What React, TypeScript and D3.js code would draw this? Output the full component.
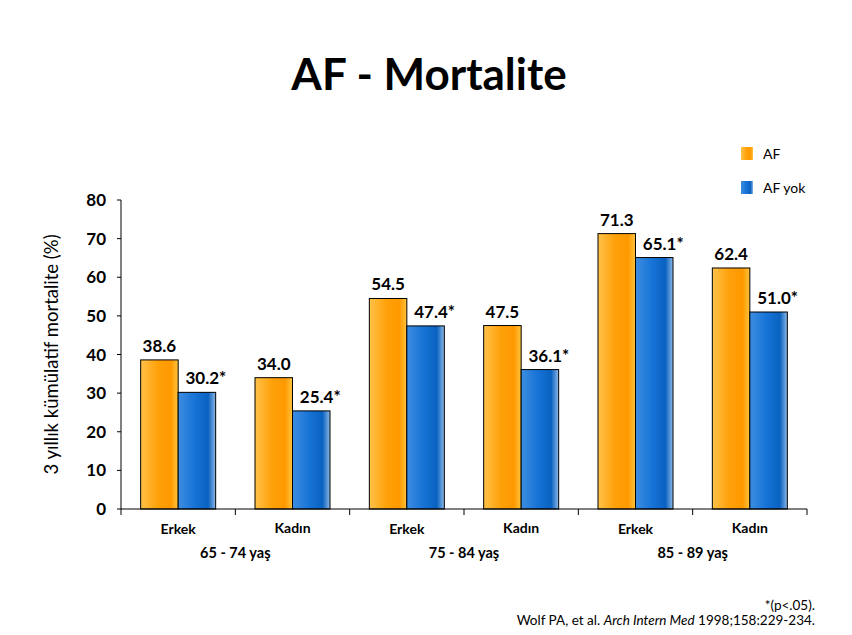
import React from "react";
import * as d3 from "d3";

const categories = ["Erkek", "Kadın", "Erkek", "Kadın", "Erkek", "Kadın"];
const ageGroups = ["65 - 74 yaş", "75 - 84 yaş", "85 - 89 yaş"];
const afValues = [38.6, 34.0, 54.5, 47.5, 71.3, 62.4];
const afYokValues = [30.2, 25.4, 47.4, 36.1, 65.1, 51.0];
const yTicks = [0, 10, 20, 30, 40, 50, 60, 70, 80];
const seriesNames = ["AF", "AF yok"];

const FONT = "Lato, 'Open Sans', sans-serif";

export default function App() {
  const x0 = 121, x1 = 807, yTop = 200, yBot = 509;
  const y = d3.scaleLinear().domain([0, 80]).range([yBot, yTop]);
  const xc = d3.scaleBand<number>().domain(d3.range(categories.length)).range([x0, x1]);
  const bw = 37.5;
  const tickPos = d3.range(categories.length + 1).map((i) => x0 + i * xc.step());

  return (
    <svg width={852} height={635} style={{ position: "absolute", left: 0, top: 0, background: "#fff" }}>
      <defs>
        <linearGradient id="gOr" x1="0" x2="1" y1="0" y2="0">
          <stop offset="0" stopColor="#FFC24A" />
          <stop offset="0.45" stopColor="#FFA10A" />
          <stop offset="0.8" stopColor="#FF9900" />
          <stop offset="1" stopColor="#FFC43D" />
        </linearGradient>
        <linearGradient id="gBl" x1="0" x2="1" y1="0" y2="0">
          <stop offset="0" stopColor="#3D8DE0" />
          <stop offset="0.45" stopColor="#1673D6" />
          <stop offset="0.8" stopColor="#0A62C0" />
          <stop offset="1" stopColor="#8CB8E8" />
        </linearGradient>
      </defs>
      <text x={429} y={90} textAnchor="middle" fontFamily={FONT} fontWeight={700} fontSize={44} fill="#000">
        AF - Mortalite
      </text>

      {/* legend */}
      {seriesNames.map((s, i) => (
        <g key={s}>
          <rect x={741} y={147 + i * 34} width={12} height={13} fill={i === 0 ? "url(#gOr)" : "url(#gBl)"} />
          <text x={763} y={159 + i * 34} fontFamily={FONT} fontSize={14} fill="#000">{s}</text>
        </g>
      ))}

      {/* y axis */}
      <line x1={x0} x2={x0} y1={yTop} y2={yBot} stroke="#000" strokeWidth={1} />
      {yTicks.map((t) => (
        <g key={t}>
          <line x1={x0 - 4} x2={x0} y1={y(t)} y2={y(t)} stroke="#000" />
          <text x={106} y={y(t) + 6} textAnchor="end" fontFamily={FONT} fontWeight={700} fontSize={17} fill="#000">{t}</text>
        </g>
      ))}
      <text transform={`translate(58,${(yTop + yBot) / 2}) rotate(-90)`} textAnchor="middle" fontFamily={FONT} fontSize={18.5} fill="#000">
        3 yıllık kümülatif mortalite (%)
      </text>

      {/* bars */}
      {categories.map((c, i) => {
        const cx = (xc(i) as number) + xc.bandwidth() / 2;
        const ax = cx - bw;
        const bx = cx;
        return (
          <g key={i}>
            <rect x={ax} y={y(afValues[i])} width={bw} height={yBot - y(afValues[i])} fill="url(#gOr)" stroke="#000" strokeWidth={1} />
            <rect x={bx} y={y(afYokValues[i])} width={bw} height={yBot - y(afYokValues[i])} fill="url(#gBl)" stroke="#000" strokeWidth={1} />
            <text x={ax + bw / 2} y={y(afValues[i]) - 8} textAnchor="middle" fontFamily={FONT} fontWeight={700} fontSize={17} fill="#000">
              {afValues[i].toFixed(1)}
            </text>
            <text x={bx + bw / 2 + 9} y={y(afYokValues[i]) - 8} textAnchor="middle" fontFamily={FONT} fontWeight={700} fontSize={17} fill="#000">
              {afYokValues[i].toFixed(1) + "*"}
            </text>
            <text x={cx} y={c === "Erkek" ? 534 : 533} textAnchor="middle" fontFamily={FONT} fontWeight={700} fontSize={14} fill="#000">{c}</text>
          </g>
        );
      })}

      {/* x axis */}
      <line x1={x0} x2={x1} y1={yBot} y2={yBot} stroke="#000" strokeWidth={1.2} />
      {tickPos.map((p, i) => (
        <line key={i} x1={p} x2={p} y1={yBot} y2={yBot + 6} stroke="#000" />
      ))}
      {ageGroups.map((g, i) => (
        <text key={g} x={tickPos[i * 2 + 1]} y={558} textAnchor="middle" fontFamily={FONT} fontWeight={700} fontSize={14.5} fill="#000">{g}</text>
      ))}

      {/* footnote */}
      <text x={815} y={610} textAnchor="end" fontFamily={FONT} fontSize={13.5} fill="#000">*(p&lt;.05).</text>
      <text x={815} y={625} textAnchor="end" fontFamily={FONT} fontSize={13.5} fill="#000">
        Wolf PA, et al. <tspan fontStyle="italic">Arch Intern Med</tspan> 1998;158:229-234.
      </text>
    </svg>
  );
}
